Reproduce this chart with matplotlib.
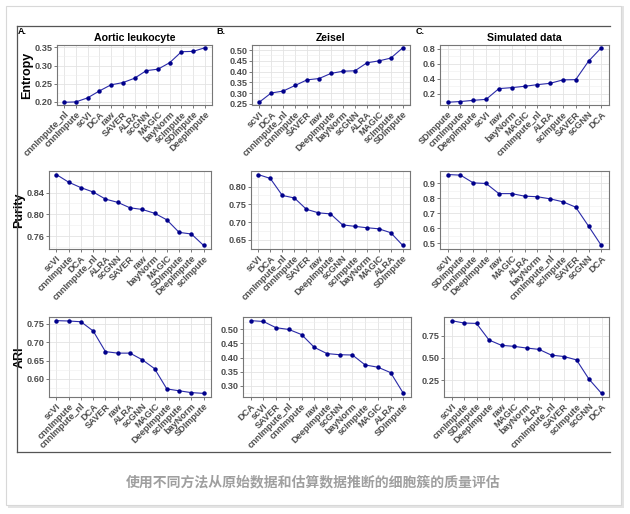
import matplotlib
matplotlib.use('Agg')
import matplotlib.pyplot as plt
from matplotlib.lines import Line2D
from matplotlib.patches import Rectangle
from matplotlib.ticker import FormatStrFormatter, AutoMinorLocator

plt.rcParams['font.family'] = ['Liberation Sans', 'DejaVu Sans']

# ---- data ----
aortic_entropy_methods = ['cnnImpute_nl', 'cnnImpute', 'scVI', 'DCA', 'raw', 'SAVER', 'ALRA',
                          'scGNN', 'MAGIC', 'bayNorm', 'scImpute', 'SDImpute', 'DeepImpute']
aortic_entropy = [0.199, 0.200, 0.211, 0.230, 0.247, 0.253, 0.265, 0.286, 0.290, 0.308, 0.338, 0.339, 0.349]

zeisel_entropy_methods = ['scVI', 'DCA', 'cnnImpute_nl', 'cnnImpute', 'SAVER', 'raw', 'DeepImpute',
                          'bayNorm', 'scGNN', 'ALRA', 'MAGIC', 'scImpute', 'SDImpute']
zeisel_entropy = [0.258, 0.301, 0.310, 0.336, 0.362, 0.368, 0.392, 0.402, 0.404, 0.441, 0.450, 0.463, 0.511]

sim_entropy_methods = ['SDImpute', 'cnnImpute', 'DeepImpute', 'scVI', 'raw', 'bayNorm', 'MAGIC',
                       'cnnImpute_nl', 'ALRA', 'scImpute', 'SAVER', 'scGNN', 'DCA']
sim_entropy = [0.086, 0.096, 0.112, 0.125, 0.269, 0.282, 0.300, 0.322, 0.340, 0.386, 0.389, 0.636, 0.817]

aortic_purity_methods = ['scVI', 'cnnImpute', 'DCA', 'cnnImpute_nl', 'ALRA', 'scGNN', 'SAVER',
                         'raw', 'bayNorm', 'MAGIC', 'SDImpute', 'DeepImpute', 'scImpute']
aortic_purity = [0.873, 0.859, 0.849, 0.841, 0.828, 0.822, 0.812, 0.809, 0.802, 0.790, 0.767, 0.764, 0.743]

zeisel_purity_methods = ['scVI', 'DCA', 'cnnImpute_nl', 'cnnImpute', 'SAVER', 'raw', 'DeepImpute',
                         'scGNN', 'scImpute', 'bayNorm', 'MAGIC', 'ALRA', 'SDImpute']
zeisel_purity = [0.834, 0.823, 0.775, 0.768, 0.736, 0.726, 0.723, 0.692, 0.688, 0.684, 0.681, 0.670, 0.634]

sim_purity_methods = ['scVI', 'SDImpute', 'cnnImpute', 'DeepImpute', 'raw', 'MAGIC', 'ALRA',
                      'bayNorm', 'cnnImpute_nl', 'scImpute', 'SAVER', 'scGNN', 'DCA']
sim_purity = [0.960, 0.956, 0.904, 0.900, 0.832, 0.832, 0.815, 0.811, 0.797, 0.777, 0.741, 0.614, 0.484]

aortic_ari_methods = ['scVI', 'cnnImpute', 'cnnImpute_nl', 'DCA', 'SAVER', 'raw', 'ALRA',
                      'scGNN', 'MAGIC', 'DeepImpute', 'scImpute', 'bayNorm', 'SDImpute']
aortic_ari = [0.758, 0.757, 0.755, 0.730, 0.674, 0.670, 0.670, 0.652, 0.628, 0.573, 0.568, 0.563, 0.561]

zeisel_ari_methods = ['DCA', 'scVI', 'SAVER', 'cnnImpute_nl', 'cnnImpute', 'raw', 'DeepImpute',
                      'scGNN', 'bayNorm', 'scImpute', 'MAGIC', 'ALRA', 'SDImpute']
zeisel_ari = [0.530, 0.527, 0.505, 0.499, 0.481, 0.436, 0.414, 0.410, 0.409, 0.374, 0.366, 0.347, 0.274]

sim_ari_methods = ['scVI', 'cnnImpute', 'SDImpute', 'DeepImpute', 'raw', 'MAGIC', 'bayNorm',
                   'ALRA', 'cnnImpute_nl', 'SAVER', 'scImpute', 'scGNN', 'DCA']
sim_ari = [0.917, 0.890, 0.886, 0.700, 0.640, 0.629, 0.610, 0.595, 0.530, 0.515, 0.477, 0.261, 0.102]

titles = ['Aortic leukocyte', 'Zeisel', 'Simulated data']
ylabels = ['Entropy', 'Purity', 'ARI']
caption = '使用不同方法从原始数据和估算数据推断的细胞簇的质量评估'

W, H = 630, 514
fig = plt.figure(figsize=(W / 100, H / 100), dpi=100)


def box(x0, y0, x1, y1):
    # pixel box (top-left origin) -> figure fraction rect
    return [x0 / W, 1 - y1 / H, (x1 - x0) / W, (y1 - y0) / H]


def hline(x0, x1, y, color, lw):
    fig.add_artist(Line2D([x0 / W, x1 / W], [1 - y / H, 1 - y / H], color=color, lw=lw))


def vline(x, y0, y1, color, lw):
    fig.add_artist(Line2D([x / W, x / W], [1 - y0 / H, 1 - y1 / H], color=color, lw=lw))


# card with a soft shadow
fig.add_artist(Rectangle((8 / W, 1 - 508 / H), 616 / W, 502 / H, transform=fig.transFigure,
                         facecolor='#e4e4e4', edgecolor='none', zorder=-3))
fig.add_artist(Rectangle((6 / W, 1 - 505 / H), 615 / W, 499 / H, transform=fig.transFigure,
                         facecolor='white', edgecolor='#d8d8d8', lw=0.8, zorder=-2))

# figure frame lines
hline(17, 610, 26, '#555555', 0.9)
vline(17, 26, 452, '#555555', 0.9)
hline(17, 610, 452, '#555555', 0.9)

for lbl, x in zip(['A.', 'B.', 'C.'], [18, 216, 416]):
    fig.text(x / W, 1 - 31 / H, lbl, fontsize=6.5, fontweight='bold', va='center', ha='left')

panels = [
    [(aortic_entropy_methods, aortic_entropy, [0.20, 0.25, 0.30, 0.35], '%.2f', (57, 45, 212, 105)),
     (zeisel_entropy_methods, zeisel_entropy, [0.25, 0.30, 0.35, 0.40, 0.45, 0.50], '%.2f', (252, 45, 410, 105)),
     (sim_entropy_methods, sim_entropy, [0.2, 0.4, 0.6, 0.8], '%.1f', (440, 45, 609, 105))],
    [(aortic_purity_methods, aortic_purity, [0.76, 0.80, 0.84], '%.2f', (49, 171, 211, 249)),
     (zeisel_purity_methods, zeisel_purity, [0.65, 0.70, 0.75, 0.80], '%.2f', (251, 171, 410, 249)),
     (sim_purity_methods, sim_purity, [0.5, 0.6, 0.7, 0.8, 0.9], '%.1f', (440, 171, 609, 249))],
    [(aortic_ari_methods, aortic_ari, [0.60, 0.65, 0.70, 0.75], '%.2f', (49, 317, 211, 397)),
     (zeisel_ari_methods, zeisel_ari, [0.30, 0.35, 0.40, 0.45, 0.50], '%.2f', (243, 317, 411, 397)),
     (sim_ari_methods, sim_ari, [0.25, 0.50, 0.75], '%.2f', (444, 317, 609, 397))],
]

for r, row in enumerate(panels):
    for c, (methods, vals, yticks, fmt, pos) in enumerate(row):
        ax = fig.add_axes(box(*pos))
        x = list(range(1, len(methods) + 1))
        ax.plot(x, vals, color='#2a2aa8', lw=0.8, marker='o', ms=2.2,
                mfc='#00008b', mec='#00008b', zorder=3)
        ax.set_xlim(0.4, len(methods) + 0.6)
        lo, hi = min(vals), max(vals)
        pad = (hi - lo) * 0.05
        ax.set_ylim(lo - pad, hi + pad)
        ax.set_xticks(x)
        ax.set_xticklabels(methods, rotation=45, ha='right', rotation_mode='anchor',
                           fontsize=6.6, fontweight='bold', color='#4d4d4d')
        ax.set_yticks(yticks)
        ax.yaxis.set_major_formatter(FormatStrFormatter(fmt))
        ax.yaxis.set_minor_locator(AutoMinorLocator(2))
        for t in ax.get_yticklabels():
            t.set_fontsize(6.6)
            t.set_fontweight('bold')
            t.set_color('#4d4d4d')
        ax.tick_params(axis='both', which='major', length=2, width=0.5, color='#444444', pad=1.5)
        ax.tick_params(axis='y', which='minor', length=0)
        ax.grid(which='major', color='#e3e3e3', lw=0.6)
        ax.grid(which='minor', axis='y', color='#eeeeee', lw=0.4)
        ax.set_axisbelow(True)
        for s in ax.spines.values():
            s.set_color('#777777')
            s.set_linewidth(0.8)
        if r == 0:
            ax.set_title(titles[c], fontsize=7.6, fontweight='bold', pad=3)
        if c == 0:
            ax.set_ylabel(ylabels[r], fontsize=9, fontweight='bold', labelpad=0.5)

fig.text(313 / W, 1 - 482 / H, caption, ha='center', va='center', fontsize=10,
         fontweight='bold', color='#9f9f9f', family=['Noto Sans CJK SC', 'DejaVu Sans'])

fig.savefig('out.png', dpi=100)
